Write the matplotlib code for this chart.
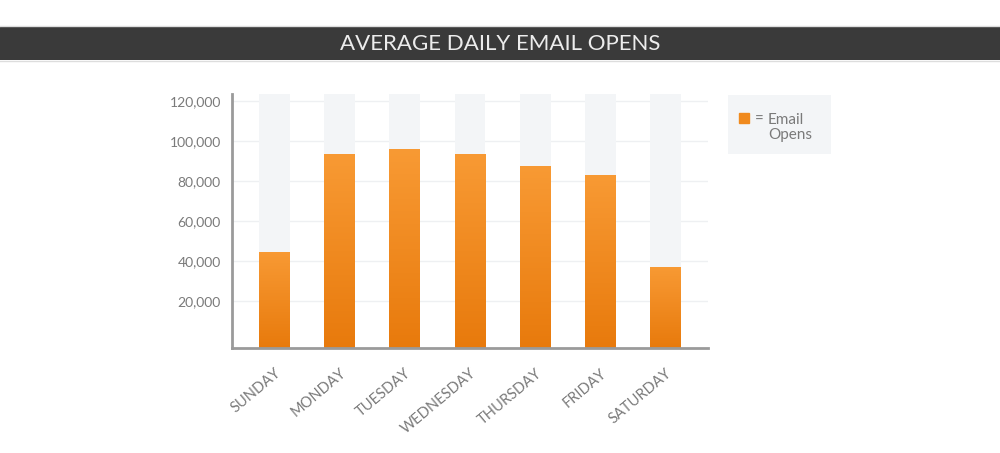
import numpy as np
import matplotlib
matplotlib.use('Agg')
import matplotlib.pyplot as plt
from matplotlib.colors import LinearSegmentedColormap
from matplotlib.patches import Rectangle

TITLE = 'AVERAGE DAILY EMAIL OPENS'
DAYS = ['SUNDAY', 'MONDAY', 'TUESDAY', 'WEDNESDAY', 'THURSDAY', 'FRIDAY', 'SATURDAY']
OPENS = [44500, 93500, 96000, 93500, 87500, 83000, 37000]
Y_TICKS = [20000, 40000, 60000, 80000, 100000, 120000]
Y_TICK_LABELS = ['20,000', '40,000', '60,000', '80,000', '100,000', '120,000']
LEGEND_LINES = ['Email', 'Opens']

BASE = -3500      # bars sit on the axis line, a bit below the zero mark
Y_TOP = 123500
BAR_W = 0.47
ORANGE_TOP = '#f89a34'
ORANGE_BOT = '#e87a0c'
COLUMN_BG = '#f3f5f7'
TEXT_GREY = '#7a7a7a'

plt.rcParams['font.family'] = ['Lato', 'DejaVu Sans']

fig = plt.figure(figsize=(10, 4.53), dpi=100)

# title band across the top
band = fig.add_axes([0, 1 - 60 / 453, 1, 33 / 453])
band.set_xlim(0, 1)
band.set_ylim(0, 1)
band.axis('off')
band.add_patch(Rectangle((0, 0), 1, 1, color='#3a3a3a'))
band.text(0.5, 0.48, TITLE, color='#ececec', fontsize=16, ha='center', va='center')
fig.add_artist(plt.Line2D([0, 1], [1 - 25.5 / 453] * 2, color='#dddddd', lw=1))
fig.add_artist(plt.Line2D([0, 1], [1 - 61 / 453] * 2, color='#dddddd', lw=1))

ax = fig.add_axes([0.232, 1 - 348 / 453, 0.476, (348 - 94) / 453])
x = np.arange(len(DAYS))

for t in Y_TICKS:
    ax.axhline(t, color='#eef0f2', lw=1, zorder=0)

# light grey full-height columns behind each bar
ax.bar(x, [Y_TOP - BASE] * len(DAYS), bottom=BASE, width=BAR_W, color=COLUMN_BG, zorder=1)

bars = ax.bar(x, np.array(OPENS) - BASE, bottom=BASE, width=BAR_W, color=ORANGE_BOT, zorder=2)
cmap = LinearSegmentedColormap.from_list('orange', [ORANGE_BOT, ORANGE_TOP])
grad = np.linspace(0, 1, 256).reshape(-1, 1)
for b in bars:
    x0, y0 = b.get_x(), b.get_y()
    img = ax.imshow(grad, cmap=cmap, origin='lower', aspect='auto', zorder=3,
                    extent=[x0, x0 + b.get_width(), y0, y0 + b.get_height()])
    img.set_clip_path(b)
ax.set_xlim(-0.65, len(DAYS) - 0.35)
ax.set_ylim(BASE, Y_TOP)

ax.set_yticks(Y_TICKS)
ax.set_yticklabels(Y_TICK_LABELS, color=TEXT_GREY, fontsize=10)
ax.set_xticks(x)
ax.set_xticklabels(DAYS, rotation=40, ha='right', rotation_mode='anchor',
                   color=TEXT_GREY, fontsize=10.5)
ax.tick_params(axis='both', length=0)
ax.tick_params(axis='y', pad=8)
ax.tick_params(axis='x', pad=13)

for side in ['top', 'right']:
    ax.spines[side].set_visible(False)
for side in ['left', 'bottom']:
    ax.spines[side].set_color('#9a9a9a')
    ax.spines[side].set_linewidth(2)
    ax.spines[side].set_zorder(5)

# legend box
leg = fig.add_axes([728 / 1000, 1 - 154 / 453, 103 / 1000, 59 / 453])
leg.set_xlim(0, 103)
leg.set_ylim(59, 0)
leg.axis('off')
leg.add_patch(Rectangle((0, 0), 103, 59, color=COLUMN_BG))
leg.add_patch(Rectangle((11, 18), 10, 10, color='#f08a1e'))
leg.text(27, 24.5, '=', color=TEXT_GREY, fontsize=11, va='center', ha='left')
leg.text(40, 24.5, LEGEND_LINES[0], color=TEXT_GREY, fontsize=11, va='center', ha='left')
leg.text(40, 39.5, LEGEND_LINES[1], color=TEXT_GREY, fontsize=11, va='center', ha='left')

fig.savefig('out.png', dpi=100, facecolor='white')
